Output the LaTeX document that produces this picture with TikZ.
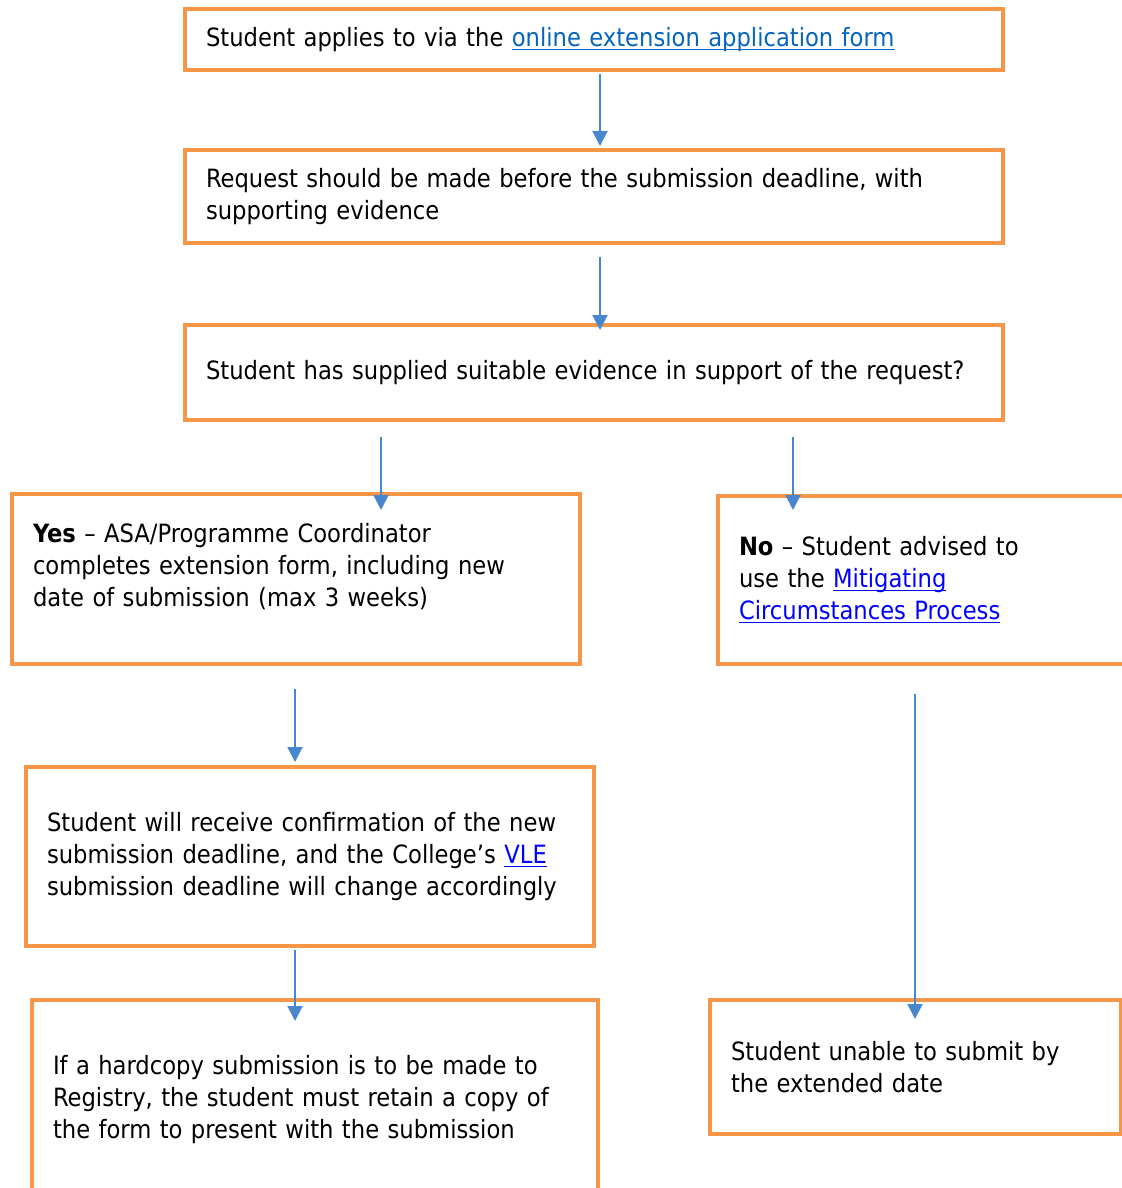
\documentclass[tikz,border=0pt]{standalone}
\usepackage{fontspec}
\usetikzlibrary{arrows.meta}
\newfontfamily\tahoma{DejaVu Sans Condensed}
\definecolor{boxorange}{HTML}{F79646}
\definecolor{arrowblue}{HTML}{4A86CD}
\definecolor{wordlink}{HTML}{0563C1}
\definecolor{purelink}{HTML}{0000FF}
\newcommand{\weblink}[2][purelink]{\leavevmode{\color{#1}\setbox0\hbox{#2}\rlap{\rule[-1.8pt]{\wd0}{0.7pt}}\box0}}
\begin{document}
\begin{tikzpicture}
                        [x=0.5pt, y=-0.5pt,
                        stepbox/.style={draw=boxorange, line width=2pt, anchor=north west,
                                inner xsep=10.5pt, inner ysep=0pt, align=left,
                                font=\tahoma\fontsize{12.6pt}{16pt}\selectfont},
                        flow/.style={draw=arrowblue, line width=1pt,
                                -{Triangle[width=7.5pt,length=7.5pt]}}]
                        \useasboundingbox (0,0) rectangle (1122,1188);
                        %Antrag
                        \node [stepbox, minimum width=409pt, minimum height=30.5pt, text width=388pt]
                                (apply) at (183,7) {Student applies to via the \weblink[wordlink]{online extension application form}};
                        \node [stepbox, minimum width=409pt, minimum height=46.5pt, text width=388pt]
                                (request) at (183,148) {Request should be made before the submission deadline, with\\supporting evidence};
                        \node [stepbox, minimum width=409pt, minimum height=47.5pt, text width=388pt]
                                (evidence) at (183,323) {Student has supplied suitable evidence in support of the request?};
                        %Ja / Nein
                        \node [stepbox, minimum width=284pt, minimum height=85pt, text width=263pt]
                                (yes) at (10,492) {\textbf{Yes} – ASA/Programme Coordinator\\completes extension form, including new\\date of submission (max 3 weeks)\\[-2pt]~};
                        \node [stepbox, minimum width=210pt, minimum height=84pt, text width=189pt]
                                (no) at (716,494) {\textbf{No} – Student advised to\\use the \weblink{Mitigating}\\\weblink{Circumstances Process}};
                        %Folgen
                        \node [stepbox, minimum width=284pt, minimum height=89.5pt, text width=263pt]
                                (confirm) at (24,765) {Student will receive confirmation of the new\\submission deadline, and the College’s \weblink{VLE}\\submission deadline will change accordingly};
                        \node [stepbox, minimum width=283pt, minimum height=100pt, text width=262pt]
                                (hardcopy) at (30,998) {If a hardcopy submission is to be made to\\Registry, the student must retain a copy of\\the form to present with the submission};
                        \node [stepbox, minimum width=205.5pt, minimum height=67pt, text width=184.5pt]
                                (unable) at (708,998) {Student unable to submit by\\the extended date};
                        %Pfeile
                        \draw [flow, shorten <=1pt, shorten >=1pt] ([xshift=3pt]apply.south) -- ([xshift=3pt]request.north);
                        \draw [flow, shorten <=6pt, shorten >=-3.5pt] ([xshift=3pt]request.south) -- ([xshift=3pt]evidence.north);
                        \draw [flow, shorten <=7.5pt, shorten >=-9pt] ([xshift=-106.5pt]evidence.south) -- ([xshift=42.5pt]yes.north);
                        \draw [flow, shorten <=7.5pt, shorten >=-8pt] ([xshift=99.5pt]evidence.south) -- ([xshift=-67.5pt]no.north);
                        \draw [flow, shorten <=11.5pt, shorten >=1.5pt] ([xshift=-0.5pt]yes.south) -- ([xshift=-7.5pt]confirm.north);
                        \draw [flow, shorten <=1pt, shorten >=-11.5pt] ([xshift=-7.5pt]confirm.south) -- ([xshift=-10pt]hardcopy.north);
                        \draw [flow, shorten <=14pt, shorten >=-10.5pt] ([xshift=-6.5pt]no.south) -- ([xshift=-0.25pt]unable.north);
                \end{tikzpicture}
\end{document}
